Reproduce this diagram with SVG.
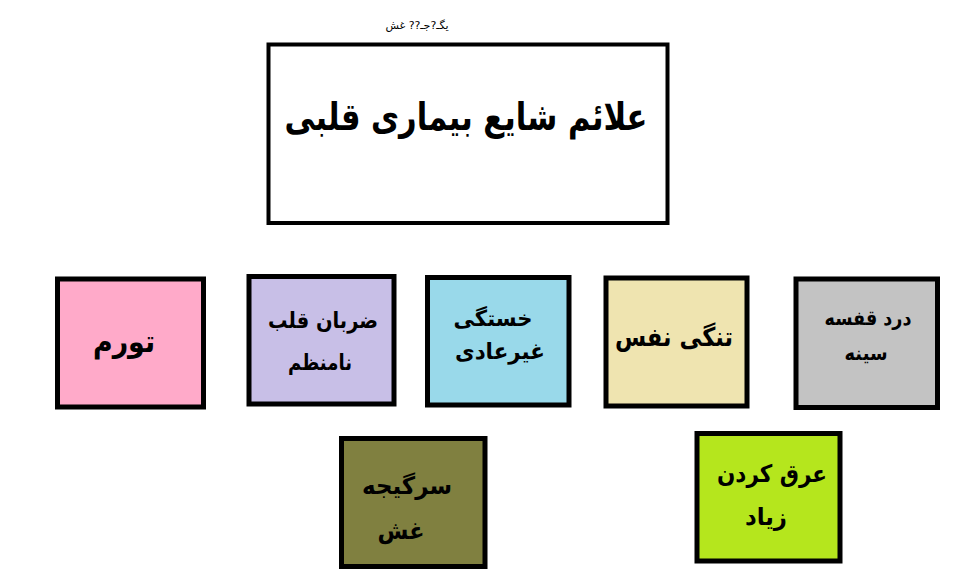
<svg xmlns="http://www.w3.org/2000/svg" width="972" height="569" viewBox="0 0 972 569">
<style>
.box{stroke:#000;stroke-width:5}
.t{font-family:"DejaVu Sans",sans-serif;font-weight:bold;text-anchor:middle;direction:rtl;fill:#000}
</style>
<rect width="972" height="569" fill="#fff"/>
<text x="417" y="29" font-family="DejaVu Sans,sans-serif" font-size="11" text-anchor="middle" direction="rtl">یگـ?جـ?? غش</text>
<g id="title">
<rect x="268.5" y="44.5" width="399" height="178.5" fill="#fff" stroke="#000" stroke-width="4"/>
<text class="t" x="466" y="130" font-size="38" textLength="363" lengthAdjust="spacingAndGlyphs">علائم شایع بیماری قلبی</text>
</g>
<g id="n1">
<rect class="box" x="57.5" y="279" width="146" height="128" fill="#FFAAC9"/>
<text class="t" x="124" y="352" font-size="30" textLength="62" lengthAdjust="spacingAndGlyphs">تورم</text>
</g>
<g id="n2">
<rect class="box" x="249" y="276.5" width="145" height="127.5" fill="#C8BFE7"/>
<text class="t" x="323" y="328" font-size="22" textLength="110" lengthAdjust="spacingAndGlyphs">ضربان قلب</text>
<text class="t" x="320" y="370" font-size="22" textLength="64" lengthAdjust="spacingAndGlyphs">نامنظم</text>
</g>
<g id="n3">
<rect class="box" x="427.5" y="277.5" width="141.5" height="127.5" fill="#99D9EA"/>
<text class="t" x="493" y="326" font-size="22" textLength="79" lengthAdjust="spacingAndGlyphs">خستگی</text>
<text class="t" x="500" y="359" font-size="22" textLength="90" lengthAdjust="spacingAndGlyphs">غیرعادی</text>
</g>
<g id="n4">
<rect class="box" x="606" y="278" width="141" height="128" fill="#EFE4B0"/>
<text class="t" x="674" y="346" font-size="26" textLength="118" lengthAdjust="spacingAndGlyphs">تنگی نفس</text>
</g>
<g id="n5">
<rect class="box" x="796" y="279" width="141.5" height="128.5" fill="#C3C3C3"/>
<text class="t" x="868" y="325" font-size="20" textLength="87" lengthAdjust="spacingAndGlyphs">درد قفسه</text>
<text class="t" x="866" y="360" font-size="20" textLength="43" lengthAdjust="spacingAndGlyphs">سینه</text>
</g>
<g id="n6">
<rect class="box" x="341.5" y="438.5" width="143.5" height="128" fill="#808040"/>
<text class="t" x="407" y="494" font-size="24" textLength="90" lengthAdjust="spacingAndGlyphs">سرگیجه</text>
<text class="t" x="401" y="539" font-size="24" textLength="47" lengthAdjust="spacingAndGlyphs">غش</text>
</g>
<g id="n7">
<rect class="box" x="697" y="433.5" width="143" height="127.5" fill="#B5E61D"/>
<text class="t" x="772" y="482" font-size="24" textLength="110" lengthAdjust="spacingAndGlyphs">عرق کردن</text>
<text class="t" x="766" y="525" font-size="24" textLength="42" lengthAdjust="spacingAndGlyphs">زیاد</text>
</g>
<g id="connectors"></g>
</svg>
